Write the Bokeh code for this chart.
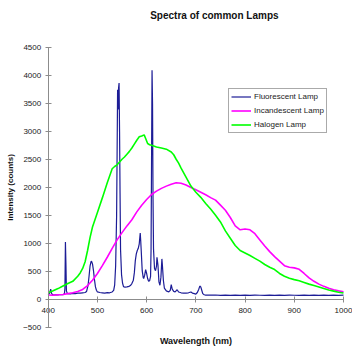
from bokeh.plotting import figure
from bokeh.models import Range1d, FixedTicker, Legend, LegendItem, Label
from bokeh.embed import file_html
from bokeh.resources import INLINE

# ---- data ----
fluor_nm = [400, 403, 405, 407, 410, 415, 420, 425, 430, 433, 434, 435, 436, 437, 439, 445, 450, 455,
            460, 465, 470, 475, 478, 481, 483, 485, 487, 488, 490, 492, 494, 496, 498, 500, 505, 510,
            515, 520, 525, 530, 533, 535, 537, 539, 540, 541, 542, 543, 544, 545, 546, 547, 549, 551,
            553, 556, 560, 564, 567, 570, 573, 575, 577, 579, 581, 583, 585, 586, 587, 588, 589, 591,
            593, 594, 596, 598, 600, 602, 604, 606, 608, 609, 610, 611, 612, 613, 614, 616, 618, 620,
            621, 623, 625, 627, 629, 631, 632, 634, 636, 640, 645, 648, 650, 652, 655, 658, 662, 665,
            670, 675, 680, 685, 690, 693, 697, 700, 703, 706, 708, 710, 712, 714, 717, 720, 730, 740,
            750, 760, 770, 780, 790, 800, 810, 820, 830, 840, 850, 860, 870, 880, 890, 900, 910, 920,
            930, 940, 950, 960, 970, 980, 990, 1000]
fluor_val = [90, 120, 190, 110, 85, 90, 88, 95, 92, 110, 200, 1030, 650, 160, 110, 105, 115, 110,
             120, 118, 125, 130, 150, 260, 420, 600, 680, 690, 640, 520, 360, 230, 170, 140, 130, 125,
             120, 128, 125, 140, 170, 260, 600, 1500, 2600, 3750, 3400, 3780, 3870, 3000, 1900, 900, 450, 300,
             235, 225, 230, 240, 255, 290, 350, 480, 700, 820, 880, 920, 1000, 1100, 1190, 1050, 880, 520,
             400, 380, 440, 540, 470, 380, 330, 340, 420, 900, 2500, 4100, 3500, 1800, 900, 560, 520, 600,
             760, 620, 320, 260, 400, 730, 620, 350, 210, 160, 140, 170, 270, 190, 150, 140, 180, 140,
             125, 120, 118, 125, 140, 120, 110, 100, 130, 190, 245, 230, 170, 110, 90, 85, 82, 86,
             80, 84, 80, 83, 79, 84, 80, 85, 81, 80, 84, 79, 82, 80, 84, 81, 79, 83,
             80, 82, 79, 84, 80, 82, 80, 85]

incand_nm = [400, 410, 420, 430, 440, 450, 460, 470, 480, 490, 500, 510, 520, 530, 540, 550, 560, 570,
             580, 590, 600, 610, 620, 630, 640, 650, 660, 670, 680, 690, 700, 710, 720, 730, 740, 750,
             760, 770, 780, 790, 800, 810, 820, 830, 840, 850, 860, 870, 880, 890, 900, 910, 920, 930,
             940, 950, 960, 970, 980, 990, 1000]
incand_val = [85, 80, 90, 95, 110, 125, 150, 185, 255, 350, 470, 610, 760, 920, 1070, 1200, 1320, 1430,
              1570, 1690, 1790, 1880, 1940, 1990, 2030, 2065, 2090, 2080, 2050, 2005, 1965, 1920, 1875, 1825, 1780, 1690,
              1600, 1470, 1320, 1250, 1265, 1250, 1180, 1070, 960, 860, 770, 690, 610, 580, 570, 545, 470, 390,
              330, 280, 240, 205, 180, 160, 145]

halogen_nm = [400, 410, 420, 430, 440, 450, 460, 465, 470, 475, 480, 485, 490, 500, 510, 520, 530, 535,
              540, 545, 550, 555, 560, 565, 570, 575, 580, 585, 590, 595, 598, 602, 606,
              610, 620, 630, 640, 650, 655, 660, 665, 670, 680, 690, 700, 710, 720, 730, 740, 750, 760,
              770, 780, 790, 800, 810, 820, 830, 840, 850, 860, 870, 880, 890, 900, 910, 920, 930, 940,
              950, 960, 970, 980, 990, 1000]
halogen_val = [125, 160, 200, 245, 290, 330, 420, 480, 560, 680, 880, 1110, 1300, 1560, 1820, 2090, 2340, 2380,
               2410, 2460, 2510, 2550, 2600, 2650, 2710, 2780, 2850, 2910, 2925, 2945, 2880, 2790, 2770,
               2760, 2730, 2710, 2690, 2640, 2590, 2510, 2440, 2350, 2190, 2030, 1920, 1830, 1720, 1620, 1510, 1390, 1230,
               1100, 970, 880, 835, 790, 740, 690, 630, 580, 540, 470, 420, 385, 360, 340, 310, 280, 255,
               230, 200, 175, 155, 135, 120]

x_ticks = [400, 500, 600, 700, 800, 900, 1000]
y_ticks = [-500, 0, 500, 1000, 1500, 2000, 2500, 3000, 3500, 4000, 4500]
x_lo, x_hi = 400, 1000
y_lo, y_hi = -500, 4500

FONT = "Liberation Sans"

# The frame covers the whole canvas; both axes sit at fixed data positions
# (y axis at 400 nm, x axis at 0 counts) as in the original chart.
W, H = 352, 348
AX_LEFT, AX_RIGHT = 47.7, 343.0   # pixel positions of 400 nm and 1000 nm
AX_TOP, AX_BOTTOM = 47.3, 327.3   # pixel positions of 4500 and -500
sx = (x_hi - x_lo) / (AX_RIGHT - AX_LEFT)
sy = (y_hi - y_lo) / (AX_BOTTOM - AX_TOP)

p = figure(width=W, height=H, output_backend="svg", toolbar_location=None,
           x_range=Range1d(x_lo - AX_LEFT * sx, x_hi + (W - AX_RIGHT) * sx),
           y_range=Range1d(y_lo - (H - AX_BOTTOM) * sy, y_hi + AX_TOP * sy),
           min_border_left=0, min_border_right=0, min_border_top=0, min_border_bottom=0)
p.outline_line_color = None
p.grid.visible = False
p.background_fill_color = "white"

r_f = p.line(fluor_nm, fluor_val, line_color="#1c1c96", line_width=1.2)
r_i = p.line(incand_nm, incand_val, line_color="#ff00ff", line_width=1.6)
r_h = p.line(halogen_nm, halogen_val, line_color="#00ff00", line_width=1.6)

# axes
xa = p.xaxis[0]
xa.fixed_location = 0
xa.bounds = (x_lo, x_hi)
xa.ticker = FixedTicker(ticks=x_ticks)
xa.major_label_standoff = 5
xa.axis_label = "Wavelength (nm)"
xa.axis_label_text_font_size = "9px"
xa.axis_label_standoff = 20

ya = p.yaxis[0]
ya.fixed_location = x_lo
ya.bounds = (y_lo, y_hi)
ya.ticker = FixedTicker(ticks=y_ticks)
ya.major_label_standoff = 4
ya.axis_label = "Intensity (counts)"
ya.axis_label_text_font_size = "8px"
ya.axis_label_standoff = 5

for ax in (xa, ya):
    ax.axis_line_color = "#8c8c8c"
    ax.major_tick_line_color = "#8c8c8c"
    ax.minor_tick_line_color = None
    ax.major_tick_in = 3
    ax.major_tick_out = 3
    ax.major_label_text_font = FONT
    ax.major_label_text_font_size = "8px"
    ax.major_label_text_color = "#222222"
    ax.axis_label_text_font = FONT
    ax.axis_label_text_font_style = "bold"
    ax.axis_label_text_color = "#111111"

# chart title
p.add_layout(Label(x=x_lo, y=y_hi, x_offset=102, y_offset=32, text="Spectra of common Lamps",
                   text_align="left", text_baseline="middle",
                   text_font=FONT, text_font_size="10px", text_font_style="bold",
                   text_color="#111111"))

legend = Legend(items=[LegendItem(label="Fluorescent Lamp", renderers=[r_f]),
                       LegendItem(label="Incandescent Lamp", renderers=[r_i]),
                       LegendItem(label="Halogen Lamp", renderers=[r_h])],
                location=(228, 215), padding=2, spacing=3, margin=0,
                glyph_width=20, glyph_height=11, label_height=11, label_standoff=3,
                label_text_font=FONT, label_text_font_size="8px", label_text_color="#222222",
                border_line_color="#555555", border_line_width=1,
                background_fill_color="white", background_fill_alpha=1)
p.add_layout(legend, "center")

open("out.html", "w").write(file_html(p, INLINE))
